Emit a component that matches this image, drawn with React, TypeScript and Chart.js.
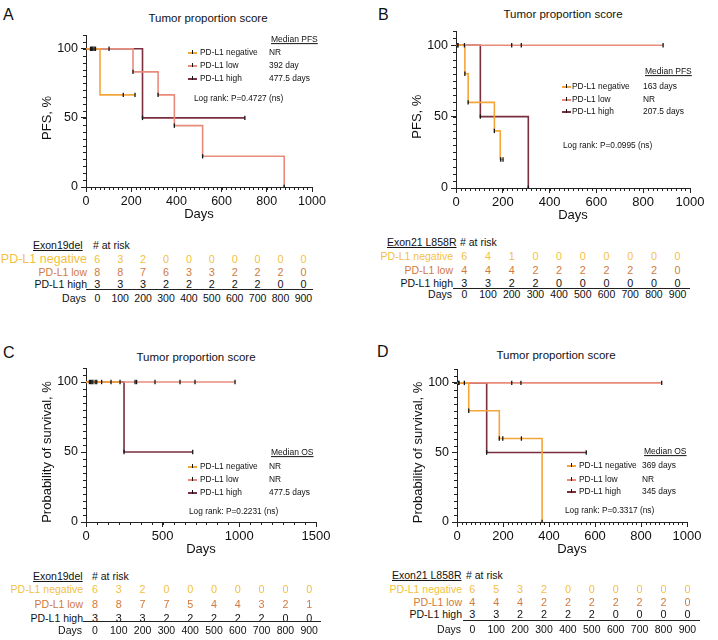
import React, { useEffect, useRef } from 'react';
import { Chart, registerables } from 'chart.js';
Chart.register(...registerables);

const FONT = '"Liberation Sans", Arial, Helvetica, sans-serif';
const C_NEG = '#F4A63A';
const C_LOW = '#E98B7B';
const C_HIGH = '#7A2E3E';
const T_NEG = '#F4BF3F';
const T_LOW = '#D2793C';
const CENSOR = '#161616';

const GROUPS = ['PD-L1 negative', 'PD-L1 low', 'PD-L1 high'];
const RISK_DAYS = [0, 100, 200, 300, 400, 500, 600, 700, 800, 900];

// ---- Panel A : PFS, Exon19del ----
const A_NEG_T = [0, 62, 217];
const A_NEG_S = [100, 66.7, 66.7];
const A_NEG_CT = [20, 25, 30, 36, 42, 165, 217];
const A_NEG_CS = [100, 100, 100, 100, 100, 66.7, 66.7];
const A_LOW_T = [0, 208, 319, 391, 516, 877];
const A_LOW_S = [100, 83.3, 66.7, 44.4, 22.2, 0];
const A_LOW_CT = [102, 208, 319, 391, 516, 877];
const A_LOW_CS = [100, 83.3, 66.7, 44.4, 22.2, 0];
const A_HIGH_T = [0, 250, 703];
const A_HIGH_S = [100, 50, 50];
const A_HIGH_CT = [250, 703];
const A_HIGH_CS = [50, 50];
const A_MEDIAN = ['NR', '392 day', '477.5 days'];
const A_RISK_NEG = [6, 3, 2, 0, 0, 0, 0, 0, 0, 0];
const A_RISK_LOW = [8, 8, 7, 6, 3, 3, 2, 2, 2, 0];
const A_RISK_HIGH = [3, 3, 3, 2, 2, 2, 2, 2, 0, 0];

// ---- Panel B : PFS, Exon21 L858R ----
const B_NEG_T = [0, 38, 52, 164, 189, 201];
const B_NEG_S = [100, 80, 60, 40, 20, 20];
const B_NEG_CT = [38, 52, 164, 191, 201];
const B_NEG_CS = [80, 60, 40, 20, 20];
const B_LOW_T = [0, 885];
const B_LOW_S = [100, 100];
const B_LOW_CT = [5, 9, 36, 238, 279, 885];
const B_LOW_CS = [100, 100, 100, 100, 100, 100];
const B_HIGH_T = [0, 104, 309];
const B_HIGH_S = [100, 50, 0];
const B_HIGH_CT = [104, 309];
const B_HIGH_CS = [50, 0];
const B_MEDIAN = ['163 days', 'NR', '207.5 days'];
const B_RISK_NEG = [6, 4, 1, 0, 0, 0, 0, 0, 0, 0];
const B_RISK_LOW = [4, 4, 4, 2, 2, 2, 2, 2, 2, 0];
const B_RISK_HIGH = [3, 3, 2, 2, 0, 0, 0, 0, 0, 0];

// ---- Panel C : OS, Exon19del ----
const C_NEG_T = [0, 222];
const C_NEG_S = [100, 100];
const C_NEG_CT = [22, 30, 38, 45, 60, 70, 102, 163, 222];
const C_NEG_CS = [100, 100, 100, 100, 100, 100, 100, 100, 100];
const C_LOW_T = [0, 972];
const C_LOW_S = [100, 100];
const C_LOW_CT = [320, 330, 450, 613, 711, 972];
const C_LOW_CS = [100, 100, 100, 100, 100, 100];
const C_HIGH_T = [0, 248, 696];
const C_HIGH_S = [100, 50, 50];
const C_HIGH_CT = [248, 696];
const C_HIGH_CS = [50, 50];
const C_MEDIAN = ['NR', 'NR', '477.5 days'];
const C_RISK_NEG = [6, 3, 2, 0, 0, 0, 0, 0, 0, 0];
const C_RISK_LOW = [8, 8, 7, 7, 5, 4, 4, 3, 2, 1];
const C_RISK_HIGH = [3, 3, 3, 2, 2, 2, 2, 2, 0, 0];

// ---- Panel D : OS, Exon21 L858R ----
const D_NEG_T = [0, 51, 184, 370];
const D_NEG_S = [100, 80, 60, 0];
const D_NEG_CT = [51, 184, 199, 280, 370];
const D_NEG_CS = [80, 60, 60, 60, 0];
const D_LOW_T = [0, 890];
const D_LOW_S = [100, 100];
const D_LOW_CT = [6, 9, 32, 238, 278, 890];
const D_LOW_CS = [100, 100, 100, 100, 100, 100];
const D_HIGH_T = [0, 129, 562];
const D_HIGH_S = [100, 50, 50];
const D_HIGH_CT = [129, 562];
const D_HIGH_CS = [50, 50];
const D_MEDIAN = ['369 days', 'NR', '345 days'];
const D_RISK_NEG = [6, 5, 3, 2, 0, 0, 0, 0, 0, 0];
const D_RISK_LOW = [4, 4, 4, 2, 2, 2, 2, 2, 2, 0];
const D_RISK_HIGH = [3, 3, 2, 2, 2, 2, 0, 0, 0, 0];

const Y_MAJOR = [0, 50, 100];

type Curve = { t: number[]; s: number[]; ct: number[]; cs: number[]; color: string };

const pts = (xs: number[], ys: number[]) => xs.map((x, i) => ({ x, y: ys[i] }));

const Y_W = 46;
const PAD_T = 14;
const PAD_R = 26;
const X_H = 35;
const PAD_B = 4;

function KM(props: {
  L: number; T: number; R: number; B: number;
  xMax: number; xMajor: number[]; xMinor: number; yTitle: string;
  curves: Curve[]; tickSize: number;
}) {
  const ref = useRef<HTMLCanvasElement>(null);
  const { L, T, R, B, xMax, xMajor, xMinor, yTitle, curves, tickSize } = props;
  const cLeft = L - Y_W;
  const cTop = T - PAD_T;
  const cW = R - cLeft + PAD_R;
  const cH = B - cTop + X_H + PAD_B;
  useEffect(() => {
    const datasets: any[] = [];
    curves.forEach((c, i) => {
      datasets.push({
        type: 'line', data: pts(c.t, c.s), stepped: 'before', borderColor: c.color,
        borderWidth: 1.6, pointRadius: 0, fill: false, order: 2 + i,
      });
      datasets.push({
        type: 'line', data: pts(c.ct, c.cs), showLine: false, pointStyle: 'line',
        rotation: 90, pointRadius: 2.2, borderColor: CENSOR, backgroundColor: CENSOR,
        pointBorderWidth: 1.3, order: 1,
      });
    });
    const minorPlugin = {
      id: 'minorTicks',
      afterDraw(chart: any) {
        const ctx = chart.ctx;
        const xs = chart.scales.x;
        const ys = chart.scales.y;
        const a = chart.chartArea;
        ctx.save();
        ctx.strokeStyle = '#222';
        ctx.lineWidth = 1;
        ctx.beginPath();
        for (let v = 0; v <= xMax + 0.01; v += xMinor) {
          const px = Math.round(xs.getPixelForValue(v)) + 0.5;
          ctx.moveTo(px, a.bottom);
          ctx.lineTo(px, a.bottom + 3);
        }
        for (let v = 0; v <= 110; v += 5) {
          const py = Math.round(ys.getPixelForValue(v)) + 0.5;
          ctx.moveTo(a.left - 3, py);
          ctx.lineTo(a.left, py);
        }
        ctx.stroke();
        ctx.fillStyle = '#111';
        ctx.font = `13px ${FONT}`;
        ctx.textAlign = 'center';
        ctx.textBaseline = 'middle';
        ctx.translate(a.left - 39, ys.getPixelForValue(50));
        ctx.rotate(-Math.PI / 2);
        ctx.fillText(yTitle, 0, 0);
        ctx.restore();
      },
    };
    const chart = new Chart(ref.current as HTMLCanvasElement, {
      type: 'line',
      data: { datasets },
      plugins: [minorPlugin],
      options: {
        responsive: false, animation: false, devicePixelRatio: 1,
        layout: { padding: { left: 0, top: PAD_T, right: PAD_R, bottom: PAD_B } },
        plugins: { legend: { display: false }, tooltip: { enabled: false } },
        scales: {
          x: {
            type: 'linear', min: 0, max: xMax,
            afterBuildTicks: (s: any) => { s.ticks = xMajor.map((v) => ({ value: v })); },
            afterFit: (s: any) => { s.height = X_H; },
            grid: { drawOnChartArea: false, drawTicks: true, tickLength: 5, color: '#222' },
            border: { color: '#222', width: 1 },
            ticks: { padding: 2, color: '#111', autoSkip: false, maxRotation: 0, font: { size: tickSize, family: FONT }, callback: (v: any) => String(v) },
            title: { display: true, text: 'Days', color: '#111', padding: 0, font: { size: 13, family: FONT } },
          },
          y: {
            type: 'linear', min: 0, max: 110,
            afterBuildTicks: (s: any) => { s.ticks = Y_MAJOR.map((v) => ({ value: v })); },
            afterFit: (s: any) => { s.width = Y_W; },
            grid: { drawOnChartArea: false, drawTicks: true, tickLength: 5, color: '#222' },
            border: { color: '#222', width: 1 },
            ticks: { padding: 3, color: '#111', font: { size: 12.5, family: FONT }, callback: (v: any) => String(v) },
          },
        },
      } as any,
    });
    return () => chart.destroy();
  }, []);
  return (
    <canvas ref={ref} width={cW} height={cH}
      style={{ position: 'absolute', left: cLeft, top: cTop, width: cW, height: cH }} />
  );
}

function Txt(p: { x: number; y: number; size: number; color?: string; align?: 'l' | 'c' | 'r'; u?: boolean; children: any }) {
  const tx = p.align === 'c' ? '-50%' : p.align === 'r' ? '-100%' : '0';
  return (
    <div style={{
      position: 'absolute', left: p.x, top: p.y, transform: `translate(${tx}, -50%)`,
      fontSize: p.size, lineHeight: 1.15, color: p.color || '#111', whiteSpace: 'nowrap',
      textDecoration: p.u ? 'underline' : 'none', fontFamily: FONT,
    }}>{p.children}</div>
  );
}

function Legend(p: { gx: number; tx: number; vx: number; ys: number[]; hy: number; hText: string; medians: string[]; lx: number; ly: number; lText: string }) {
  const cols = [C_NEG, C_LOW, C_HIGH];
  return (
    <>
      <Txt x={p.vx + 2} y={p.hy} size={8.5} u>{p.hText}</Txt>
      {GROUPS.map((g, i) => (
        <React.Fragment key={g}>
          <div style={{ position: 'absolute', left: p.gx, top: p.ys[i] - 0.75, width: 9, height: 1.5, background: cols[i] }} />
          <div style={{ position: 'absolute', left: p.gx + 4, top: p.ys[i] - 3, width: 1.2, height: 4, background: CENSOR }} />
          <Txt x={p.tx} y={p.ys[i]} size={8.4}>{g}</Txt>
          <Txt x={p.vx} y={p.ys[i]} size={8.4}>{p.medians[i]}</Txt>
        </React.Fragment>
      ))}
      <Txt x={p.lx} y={p.ly} size={8.3}>{p.lText}</Txt>
    </>
  );
}

function RiskTable(p: {
  head: string; hx: number; hy: number; rx: number; labelR: number; ys: number[];
  lineY: number; lx1: number; lx2: number; daysY: number; c0: number; step: number;
  rows: number[][]; negSize: number;
}) {
  const colors = [T_NEG, T_LOW, '#111'];
  return (
    <>
      <Txt x={p.hx} y={p.hy} size={10.5} u>{p.head}</Txt>
      <Txt x={p.rx} y={p.hy} size={10.5}># at risk</Txt>
      {GROUPS.map((g, i) => (
        <React.Fragment key={g}>
          <Txt x={p.labelR} y={p.ys[i]} size={i === 0 ? p.negSize : 10.5} color={colors[i]} align="r">{g}</Txt>
          {p.rows[i].map((v, j) => (
            <Txt key={j} x={p.c0 + j * p.step} y={p.ys[i]} size={10.8} color={colors[i]} align="c">{v}</Txt>
          ))}
        </React.Fragment>
      ))}
      <div style={{ position: 'absolute', left: p.lx1, top: p.lineY, width: p.lx2 - p.lx1, height: 1.2, background: '#222' }} />
      <Txt x={p.labelR - 1} y={p.daysY} size={10.5} align="r">Days</Txt>
      {RISK_DAYS.map((d, j) => (
        <Txt key={d} x={p.c0 + j * p.step} y={p.daysY} size={10.5} align="c">{d}</Txt>
      ))}
    </>
  );
}

export default function App() {
  const M1000 = [0, 200, 400, 600, 800, 1000];
  const M1500 = [0, 500, 1000, 1500];
  return (
    <div style={{ position: 'absolute', left: 0, top: 0, width: 718, height: 640, background: '#fff', overflow: 'hidden', fontFamily: FONT }}>
      {/* Panel A */}
      <Txt x={3} y={15} size={16}>A</Txt>
      <Txt x={208} y={19} size={11.5} align="c">Tumor proportion score</Txt>
      <KM L={86} T={35} R={312} B={187} xMax={1000} xMajor={M1000} xMinor={20} yTitle="PFS, %" tickSize={12.5}
        curves={[
          { t: A_NEG_T, s: A_NEG_S, ct: A_NEG_CT, cs: A_NEG_CS, color: C_NEG },
          { t: A_LOW_T, s: A_LOW_S, ct: A_LOW_CT, cs: A_LOW_CS, color: C_LOW },
          { t: A_HIGH_T, s: A_HIGH_S, ct: A_HIGH_CT, cs: A_HIGH_CS, color: C_HIGH },
        ]} />
      <Legend gx={188} tx={200} vx={269} ys={[53, 66, 79]} hy={40} hText="Median PFS" medians={A_MEDIAN}
        lx={194} ly={99} lText="Log rank: P=0.4727 (ns)" />
      <RiskTable head="Exon19del" hx={33} hy={245} rx={93} labelR={87} ys={[259, 272, 284]}
        lineY={289} lx1={86} lx2={313} daysY={298} c0={97.3} step={22.9}
        rows={[A_RISK_NEG, A_RISK_LOW, A_RISK_HIGH]} negSize={12.5} />

      {/* Panel B */}
      <Txt x={378} y={15} size={16}>B</Txt>
      <Txt x={563} y={15} size={11.5} align="c">Tumor proportion score</Txt>
      <KM L={456} T={31} R={690} B={188} xMax={1000} xMajor={M1000} xMinor={20} yTitle="PFS, %" tickSize={13}
        curves={[
          { t: B_NEG_T, s: B_NEG_S, ct: B_NEG_CT, cs: B_NEG_CS, color: C_NEG },
          { t: B_LOW_T, s: B_LOW_S, ct: B_LOW_CT, cs: B_LOW_CS, color: C_LOW },
          { t: B_HIGH_T, s: B_HIGH_S, ct: B_HIGH_CT, cs: B_HIGH_CS, color: C_HIGH },
        ]} />
      <Legend gx={562} tx={572} vx={643} ys={[87, 100, 112]} hy={72} hText="Median PFS" medians={B_MEDIAN}
        lx={563} ly={146} lText="Log rank: P=0.0995 (ns)" />
      <RiskTable head="Exon21 L858R" hx={387} hy={242} rx={460} labelR={453} ys={[256, 270, 283]}
        lineY={288} lx1={453} lx2={690} daysY={294} c0={464.3} step={23.7}
        rows={[B_RISK_NEG, B_RISK_LOW, B_RISK_HIGH]} negSize={10.5} />

      {/* Panel C */}
      <Txt x={3} y={353} size={16}>C</Txt>
      <Txt x={196} y={358} size={11.5} align="c">Tumor proportion score</Txt>
      <KM L={86} T={368} R={316} B={522} xMax={1500} xMajor={M1500} xMinor={500 / 7} yTitle="Probability of survival, %" tickSize={13}
        curves={[
          { t: C_NEG_T, s: C_NEG_S, ct: C_NEG_CT, cs: C_NEG_CS, color: C_NEG },
          { t: C_LOW_T, s: C_LOW_S, ct: C_LOW_CT, cs: C_LOW_CS, color: C_LOW },
          { t: C_HIGH_T, s: C_HIGH_S, ct: C_HIGH_CT, cs: C_HIGH_CS, color: C_HIGH },
        ]} />
      <Legend gx={188} tx={200} vx={269} ys={[467, 480, 493]} hy={453} hText="Median OS" medians={C_MEDIAN}
        lx={189} ly={512} lText="Log rank: P=0.2231 (ns)" />
      <RiskTable head="Exon19del" hx={33} hy={576} rx={92} labelR={83} ys={[589, 604, 618]}
        lineY={621} lx1={83} lx2={321} daysY={630} c0={95} step={23.8}
        rows={[C_RISK_NEG, C_RISK_LOW, C_RISK_HIGH]} negSize={10.5} />

      {/* Panel D */}
      <Txt x={377} y={352} size={16}>D</Txt>
      <Txt x={556} y={356} size={11.5} align="c">Tumor proportion score</Txt>
      <KM L={457} T={369} R={687} B={522} xMax={1000} xMajor={M1000} xMinor={20} yTitle="Probability of survival, %" tickSize={13}
        curves={[
          { t: D_NEG_T, s: D_NEG_S, ct: D_NEG_CT, cs: D_NEG_CS, color: C_NEG },
          { t: D_LOW_T, s: D_LOW_S, ct: D_LOW_CT, cs: D_LOW_CS, color: C_LOW },
          { t: D_HIGH_T, s: D_HIGH_S, ct: D_HIGH_CT, cs: D_HIGH_CS, color: C_HIGH },
        ]} />
      <Legend gx={567} tx={579} vx={642} ys={[466, 480, 492]} hy={452} hText="Median OS" medians={D_MEDIAN}
        lx={565} ly={511} lText="Log rank: P=0.3317 (ns)" />
      <RiskTable head="Exon21 L858R" hx={392} hy={575} rx={466} labelR={462} ys={[589, 602, 614]}
        lineY={620} lx1={463} lx2={700} daysY={629} c0={472.3} step={23.9}
        rows={[D_RISK_NEG, D_RISK_LOW, D_RISK_HIGH]} negSize={10.5} />
    </div>
  );
}
